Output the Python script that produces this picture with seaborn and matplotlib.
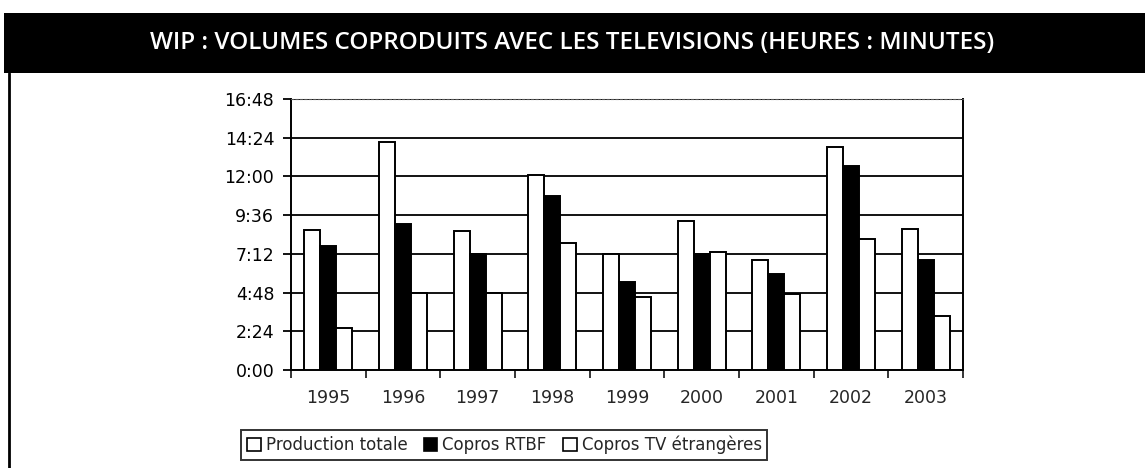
import pandas as pd
import matplotlib.pyplot as plt
import seaborn as sns
from matplotlib.patches import Rectangle
from matplotlib.lines import Line2D
from matplotlib.ticker import FuncFormatter, MultipleLocator, FixedLocator

years = ["1995", "1996", "1997", "1998", "1999", "2000", "2001", "2002", "2003"]
production_totale = ["8:42", "14:07", "8:36", "12:04", "7:10", "9:15", "6:50", "13:50", "8:46"]
copros_rtbf = ["7:42", "9:03", "7:10", "10:46", "5:27", "7:13", "5:56", "12:37", "6:48"]
copros_tv_etr = ["2:38", "4:46", "4:46", "7:52", "4:32", "7:18", "4:43", "8:08", "3:20"]
series = ["Production totale", "Copros RTBF", "Copros TV étrangères"]


def to_hours(s):
    h, m = s.split(":")
    return int(h) + int(m) / 60


rows = []
for name, vals in zip(series, [production_totale, copros_rtbf, copros_tv_etr]):
    for y, v in zip(years, vals):
        rows.append({"Année": y, "Série": name, "Heures": to_hours(v)})
df = pd.DataFrame(rows)

sns.set_style("white")
plt.rcParams["font.family"] = ["DejaVu Sans"]

fig = plt.figure(figsize=(11.45, 4.68), dpi=100)
ax = fig.add_axes([291 / 1145, 1 - 370 / 468, (963 - 291) / 1145, (370 - 99) / 468])

sns.barplot(data=df, x="Année", y="Heures", hue="Série", hue_order=series,
            palette=["white", "black", "white"], edgecolor="black", linewidth=1.4,
            width=0.64, gap=0, errorbar=None, ax=ax, zorder=3)

ax.set_ylim(0, 16.8)
ax.set_xlim(-0.5, len(years) - 0.5)
ax.yaxis.set_major_locator(MultipleLocator(2.4))
ax.yaxis.set_major_formatter(FuncFormatter(
    lambda v, p: "%d:%02d" % (int(v + 1e-6), round((v - int(v + 1e-6)) * 60))))
ax.grid(axis="y", color="black", linewidth=1.3, zorder=0)
ax.set_axisbelow(True)
ax.set_xlabel("")
ax.set_ylabel("")

for s in ["left", "bottom", "right"]:
    ax.spines[s].set_visible(True)
    ax.spines[s].set_color("black")
    ax.spines[s].set_linewidth(1.4)
ax.spines["top"].set_visible(True)
ax.spines["top"].set_color("#555555")
ax.spines["top"].set_linewidth(0.8)
ax.spines["top"].set_linestyle((0, (2, 2)))

ax.tick_params(axis="y", which="major", left=True, length=6, width=1.3,
               labelsize=12.5, pad=6, colors="black")
ax.xaxis.set_minor_locator(FixedLocator([i - 0.5 for i in range(len(years) + 1)]))
ax.tick_params(axis="x", which="major", length=0, labelsize=12.5, pad=14)
ax.tick_params(axis="x", which="minor", bottom=True, length=6, width=1.3, direction="out")

ax.legend_.remove()
handles = [Rectangle((0, 0), 1, 1, facecolor=c, edgecolor="black", linewidth=1.2)
           for c in ["white", "black", "white"]]
leg = fig.legend(handles, series, loc="center left",
                 bbox_to_anchor=(233 / 1145, 1 - 445 / 468), ncol=3,
                 frameon=True, fancybox=False, edgecolor="black", fontsize=12,
                 handlelength=0.8, handleheight=0.8, handletextpad=0.3,
                 columnspacing=1.0, borderpad=0.35)
leg.get_frame().set_linewidth(1.4)

# title band and outer frame
fig.add_artist(Rectangle((4 / 1145, 1 - 73 / 468), 1, 60 / 468,
                         transform=fig.transFigure, facecolor="black",
                         edgecolor="none", zorder=0))
fig.text(0.5, 1 - 43 / 468, "WIP : VOLUMES COPRODUITS AVEC LES TELEVISIONS (HEURES : MINUTES)",
         color="white", fontsize=17.5, ha="center", va="center",
         family=["Open Sans", "DejaVu Sans"], fontweight="semibold")
fig.add_artist(Line2D([9 / 1145, 9 / 1145], [0, 1 - 73 / 468],
                      transform=fig.transFigure, color="black", linewidth=2))

fig.savefig("out.png", dpi=100)
